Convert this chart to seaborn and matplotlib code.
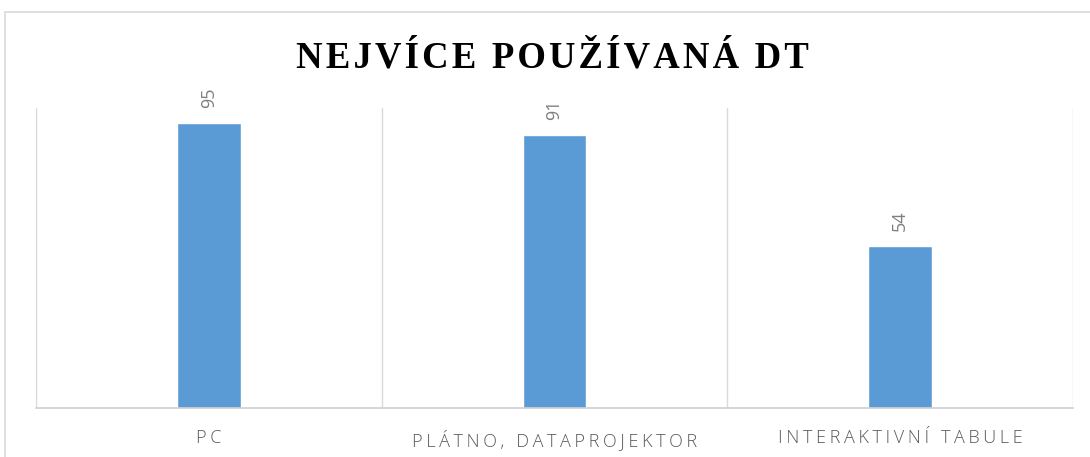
import matplotlib
matplotlib.use("Agg")
import matplotlib.pyplot as plt
import seaborn as sns
import pandas as pd
from matplotlib.patches import Rectangle

categories = ["PC", "PLÁTNO, DATAPROJEKTOR", "INTERAKTIVNÍ TABULE"]
values = [95, 91, 54]
title = "NEJVÍCE POUŽÍVANÁ DT"

df = pd.DataFrame({"cat": categories, "val": values})

sns.set_style("white")
plt.rcParams["font.family"] = ["Liberation Sans", "DejaVu Sans"]

fig = plt.figure(figsize=(10.9, 4.57), dpi=100)
ax = fig.add_axes([36/1090, 49/457, (1073-36)/1090, 300/457])

sns.barplot(data=df, x="cat", y="val", color="#5B9BD5", width=0.185,
            saturation=1, ax=ax)

ax.set_xlim(-0.5, 2.5)
ax.set_ylim(0, 100)
ax.set_xlabel("")
ax.set_ylabel("")
ax.set_yticks([])

# vertical separators between categories
for xv in [-0.5, 0.5, 1.5, 2.5]:
    ax.axvline(xv, color="#d9d9d9", lw=1, zorder=0)

for s in ["top", "right", "left"]:
    ax.spines[s].set_visible(False)
ax.spines["bottom"].set_color("#d0d0d0")
ax.spines["bottom"].set_linewidth(1.2)

# letter-spaced tick labels
spaced = ["\u2009".join(c) for c in categories]
ax.set_xticks(range(len(categories)))
ax.set_xticklabels(spaced, color="#595959", fontsize=13,
                   family=["Open Sans", "DejaVu Sans"], fontweight="light")
ax.tick_params(axis="x", length=0, pad=15)

for i, v in enumerate(values):
    ax.annotate(str(v), (i, v), xytext=(0, 11), textcoords="offset points",
                rotation=90, ha="center", va="bottom", color="#7f7f7f",
                fontsize=13, family=["Open Sans", "DejaVu Sans"])

fig.text(552/1090, 1 - 58/457, "\u200a".join(title), ha="center", va="center",
         fontsize=26.5, fontweight="bold", family=["Liberation Serif", "DejaVu Serif"],
         color="black")

# outer chart border
fig.patches.append(Rectangle((5/1090, -0.1), 1.2, 1.1 - 12/457,
                             transform=fig.transFigure, fill=False,
                             edgecolor="#d9d9d9", lw=1.2))

fig.savefig("out.png", dpi=100)
